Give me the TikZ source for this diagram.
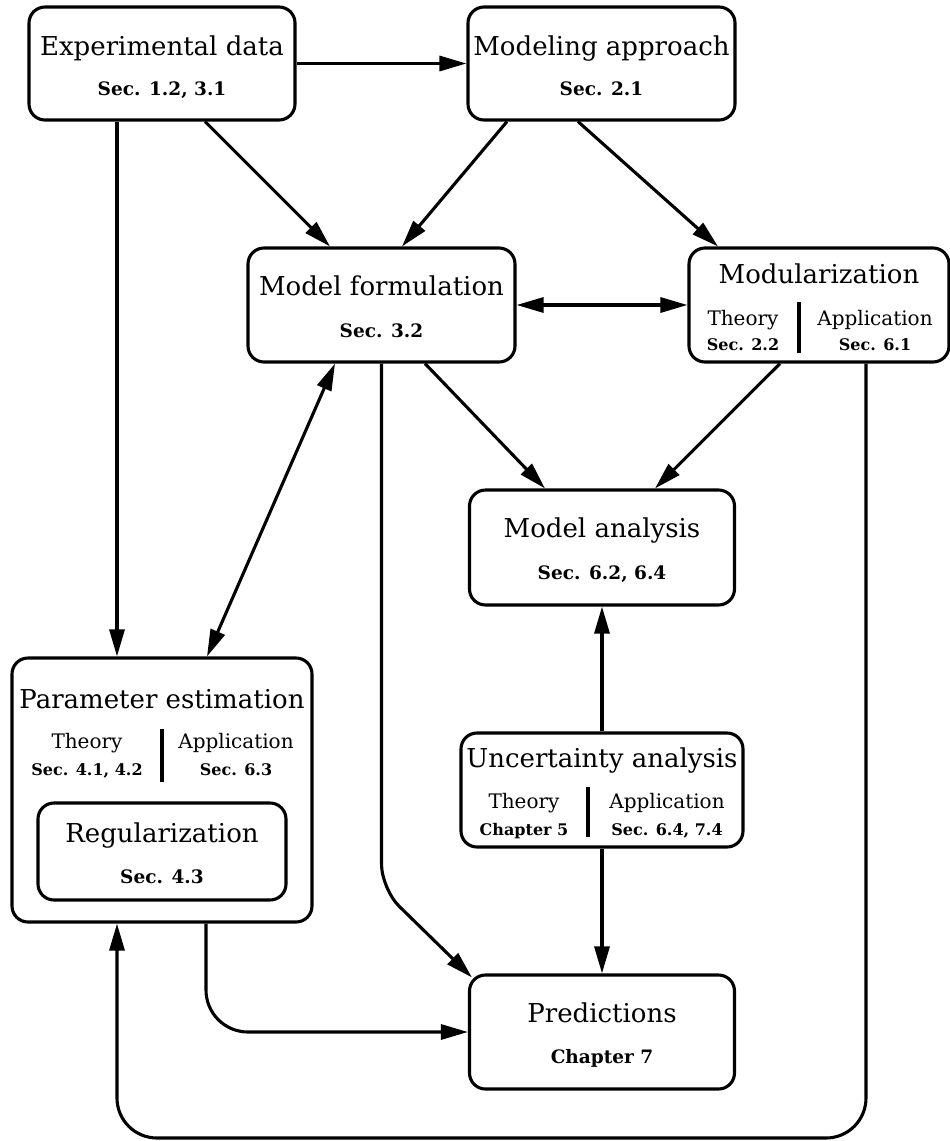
\documentclass[tikz,border=0pt]{standalone}
\usepackage{fontspec}
\setmainfont{DejaVu Serif}
\usetikzlibrary{arrows.meta,calc}
\begin{document}
\begin{tikzpicture}[x=1pt,y=-1pt,
  box/.style={draw, line width=3.1pt, rounded corners=16pt, inner sep=0pt},
  conn/.style={line width=3.1pt, -{Triangle[length=27pt,width=15pt]}},
  both/.style={line width=3.1pt, {Triangle[length=27pt,width=15pt]}-{Triangle[length=27pt,width=15pt]}},
  ttl/.style={anchor=base, inner sep=0pt, font=\fontsize{26}{30}\selectfont},
  sec/.style={anchor=base, inner sep=0pt, font=\fontsize{18.5}{22}\selectfont\bfseries},
  sub/.style={anchor=base, inner sep=0pt, font=\fontsize{20}{24}\selectfont},
  subsec/.style={anchor=base, inner sep=0pt, font=\fontsize{16}{20}\selectfont\bfseries},
  divider/.style={line width=3.1pt},
]
\useasboundingbox (0,0) rectangle (950,1141);

% boxes
\node[box, minimum width=266pt, minimum height=113pt] (exp) at (162,63.5) {};
\node[box, minimum width=267pt, minimum height=113pt] (mod) at (601.5,63.5) {};
\node[box, minimum width=267pt, minimum height=114pt] (form) at (381.5,305) {};
\node[box, minimum width=260pt, minimum height=114pt] (modu) at (819,305) {};
\node[box, minimum width=265pt, minimum height=115pt] (ana) at (602,547.5) {};
\node[box, minimum width=300pt, minimum height=264pt] (par) at (162,790) {};
\node[box, minimum width=248pt, minimum height=97pt] (reg) at (162,851.5) {};
\node[box, minimum width=282pt, minimum height=114pt] (unc) at (602,790) {};
\node[box, minimum width=265pt, minimum height=114pt] (pred) at (602,1032) {};

% texts
\node[ttl] (expt) at (162,55) {Experimental data};
\node[sec] (exps) at (162,95) {Sec. 1.2, 3.1};
\node[ttl] (modt) at (601.5,55) {Modeling approach};
\node[sec] (mods) at (601.5,95) {Sec. 2.1};
\node[ttl] (formt) at (381.5,295) {Model formulation};
\node[sec] (forms) at (381.5,337) {Sec. 3.2};
\node[ttl] (modut) at (819,283) {Modularization};
\node[sub] (modua) at (743,325) {Theory};
\node[subsec] (modub) at (743,350) {Sec. 2.2};
\node[sub] (moduc) at (875,325) {Application};
\node[subsec] (modud) at (875,350) {Sec. 6.1};
\draw[divider] (799,302) -- (799,353);
\node[ttl] (anat) at (602,537) {Model analysis};
\node[sec] (anas) at (602,579) {Sec. 6.2, 6.4};
\node[ttl] (part) at (162,708) {Parameter estimation};
\node[sub] (para) at (87,748) {Theory};
\node[subsec] (parb) at (87,775) {Sec. 4.1, 4.2};
\node[sub] (parc) at (236,748) {Application};
\node[subsec] (pard) at (236,775) {Sec. 6.3};
\draw[divider] (162,729) -- (162,782);
\node[ttl] (regt) at (162,842) {Regularization};
\node[sec] (regs) at (162,883) {Sec. 4.3};
\node[ttl] (unct) at (602,767) {Uncertainty analysis};
\node[sub] (unca) at (524,808) {Theory};
\node[subsec] (uncb) at (524,835) {Chapter 5};
\node[sub] (uncc) at (667,808) {Application};
\node[subsec] (uncd) at (667,835) {Sec. 6.4, 7.4};
\draw[divider] (588,787) -- (588,837);
\node[ttl] (predt) at (602,1022) {Predictions};
\node[sec] (preds) at (602,1063) {Chapter 7};

% connectors
\draw[conn] (exp) -- (mod);
\draw[conn] ([xshift=43pt]exp.south) -- ([xshift=-51.5pt]form.north);
\draw[conn] ([xshift=-94.5pt]mod.south) -- ([xshift=20.5pt]form.north);
\draw[conn] ([xshift=-23.5pt]mod.south) -- ([xshift=-101pt]modu.north);
\draw[both] (form.east) -- (modu.west);
\draw[conn] ([xshift=43.5pt]form.south) -- ([xshift=-57pt]ana.north);
\draw[conn] ([xshift=-39pt]modu.south) -- ([xshift=53pt]ana.north);
\draw[conn] ([xshift=-45pt]exp.south) -- ([xshift=-45pt]par.north);
\draw[both] ([xshift=-46.5pt]form.south) -- ([xshift=45pt]par.north);
\draw[conn] (unc.north) -- (ana.south);
\draw[conn] (unc.south) -- (pred.north);
\coordinate (c1) at (381.5,889);
\draw[conn, rounded corners=25pt] (form.south) -- (c1) -- ([shift={(4pt,-4pt)}]pred.north west);
\draw[conn, rounded corners=42pt] ([xshift=44pt]par.south) |- (pred.west);
\coordinate (b1) at (866,1138);
\coordinate (b2) at (117,1138);
\draw[conn, rounded corners=40pt] ([xshift=47pt]modu.south) -- (b1) -- (b2) -- ([xshift=-45pt]par.south);
\end{tikzpicture}
\end{document}
